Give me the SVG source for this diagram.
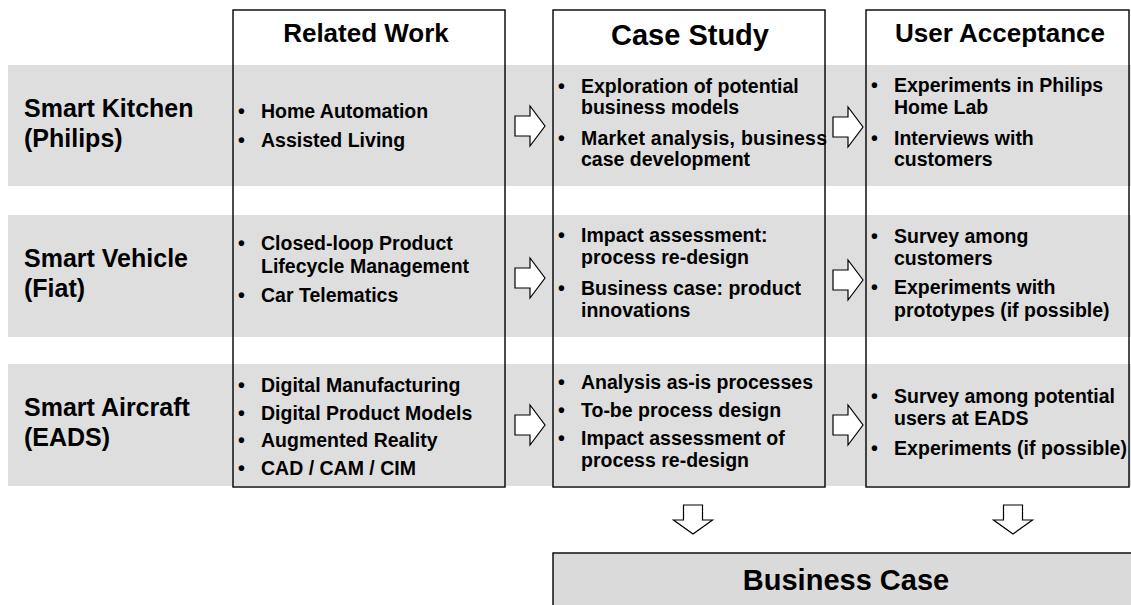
<svg xmlns="http://www.w3.org/2000/svg" width="1131" height="605" viewBox="0 0 1131 605">
<style>
.band{fill:#dedede;stroke:none}
.box{fill:none;stroke:#000;stroke-width:1.4}
.bc{fill:#dadada;stroke:#000;stroke-width:1.4}
.arr{fill:#fff;stroke:#000;stroke-width:1.2;stroke-linejoin:miter}
text{font-family:"Liberation Sans",Arial,sans-serif;font-weight:bold;fill:#000}
.lbl{font-size:25px}
.hdr{font-size:26px;text-anchor:middle}
.big{font-size:29px;text-anchor:middle}
.it{font-size:19.5px}
</style>
<defs>
<path id="ra" d="M0,-10 H15 V-20 L30,0 L15,20 V10 H0 Z"/>
<path id="da" d="M-9.5,0 V15 H-19.5 L0,29 L19.5,15 H9.5 V0 Z"/>
</defs>
<g id="bands">
<rect class="band" x="8" y="65" width="1130" height="121"/>
<rect class="band" x="8" y="215" width="1130" height="122"/>
<rect class="band" x="8" y="364" width="1130" height="122"/>
</g>
<g id="row-kitchen">
<text class="lbl" x="24" y="117">Smart Kitchen</text>
<text class="lbl" x="24" y="147">(Philips)</text>
</g>
<g id="row-vehicle">
<text class="lbl" x="24" y="267">Smart Vehicle</text>
<text class="lbl" x="24" y="297">(Fiat)</text>
</g>
<g id="row-aircraft">
<text class="lbl" x="24" y="416">Smart Aircraft</text>
<text class="lbl" x="24" y="446">(EADS)</text>
</g>
<g id="related-work">
<rect class="box" x="233" y="10" width="272" height="477"/>
<text class="hdr" x="366" y="42">Related Work</text>
<g class="it">
<text x="238" y="118">•</text><text x="261" y="118">Home Automation</text>
<text x="238" y="147">•</text><text x="261" y="147">Assisted Living</text>
<text x="238" y="250">•</text><text x="261" y="250">Closed-loop Product</text>
<text x="261" y="273">Lifecycle Management</text>
<text x="238" y="302">•</text><text x="261" y="302">Car Telematics</text>
<text x="238" y="392">•</text><text x="261" y="392">Digital Manufacturing</text>
<text x="238" y="420">•</text><text x="261" y="420">Digital Product Models</text>
<text x="238" y="447">•</text><text x="261" y="447">Augmented Reality</text>
<text x="238" y="475">•</text><text x="261" y="475">CAD / CAM / CIM</text>
</g>
</g>
<g id="case-study">
<rect class="box" x="553" y="10" width="272" height="477"/>
<text class="big" x="690" y="45">Case Study</text>
<g class="it">
<text x="558" y="93">•</text><text x="581" y="93">Exploration of potential</text>
<text x="581" y="114">business models</text>
<text x="558" y="145">•</text><text x="581" y="145" textLength="246" lengthAdjust="spacing">Market analysis, business</text>
<text x="581" y="166">case development</text>
<text x="558" y="242">•</text><text x="581" y="242">Impact assessment:</text>
<text x="581" y="264">process re-design</text>
<text x="558" y="295">•</text><text x="581" y="295">Business case: product</text>
<text x="581" y="317">innovations</text>
<text x="558" y="389">•</text><text x="581" y="389">Analysis as-is processes</text>
<text x="558" y="417">•</text><text x="581" y="417">To-be process design</text>
<text x="558" y="445">•</text><text x="581" y="445">Impact assessment of</text>
<text x="581" y="467">process re-design</text>
</g>
</g>
<g id="user-acceptance">
<rect class="box" x="866" y="10" width="263" height="477"/>
<text class="hdr" x="1000" y="42">User Acceptance</text>
<g class="it">
<text x="871" y="92">•</text><text x="894" y="92">Experiments in Philips</text>
<text x="894" y="114">Home Lab</text>
<text x="871" y="145">•</text><text x="894" y="145">Interviews with</text>
<text x="894" y="166">customers</text>
<text x="871" y="243">•</text><text x="894" y="243">Survey among</text>
<text x="894" y="265">customers</text>
<text x="871" y="294">•</text><text x="894" y="294">Experiments with</text>
<text x="894" y="317">prototypes (if possible)</text>
<text x="871" y="403">•</text><text x="894" y="403">Survey among potential</text>
<text x="894" y="425">users at EADS</text>
<text x="871" y="455">•</text><text x="894" y="455" textLength="233" lengthAdjust="spacing">Experiments (if possible)</text>
</g>
</g>
<g id="business-case">
<rect class="bc" x="553" y="553" width="590" height="60"/>
<text class="big" x="846" y="590">Business Case</text>
</g>
<g id="connectors">
<use href="#ra" class="arr" x="515" y="126"/>
<use href="#ra" class="arr" x="515" y="278"/>
<use href="#ra" class="arr" x="515" y="425"/>
<use href="#ra" class="arr" x="833" y="127"/>
<use href="#ra" class="arr" x="833" y="280"/>
<use href="#ra" class="arr" x="833" y="425"/>
<use href="#da" class="arr" x="693" y="505"/>
<use href="#da" class="arr" x="1013" y="505"/>
</g>
</svg>
